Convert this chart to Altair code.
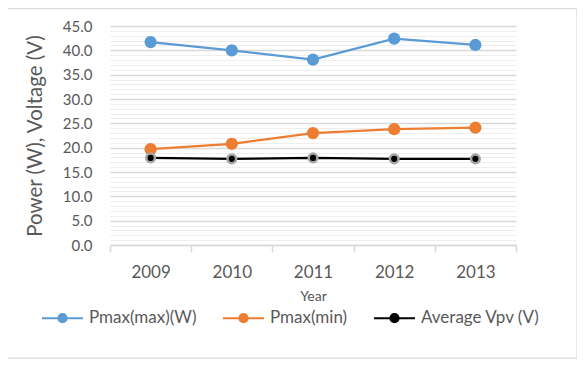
import altair as alt
import pandas as pd

years = ["2009", "2010", "2011", "2012", "2013"]
pmax_max = [41.7, 40.0, 38.1, 42.4, 41.1]
pmax_min = [19.7, 20.8, 23.0, 23.8, 24.1]
avg_vpv = [17.9, 17.7, 17.9, 17.7, 17.7]
series_names = ["Pmax(max)(W)", "Pmax(min)", "Average Vpv (V)"]
series_colors = ["#5B9BD5", "#ED7D31", "#000000"]
major_ticks = [0, 5, 10, 15, 20, 25, 30, 35, 40, 45]
minor_ticks = [v for v in range(0, 46) if v % 5 != 0]

rows = []
for name, vals in zip(series_names, [pmax_max, pmax_min, avg_vpv]):
    for y, v in zip(years, vals):
        rows.append({"year": y, "value": v, "series": name})
df = pd.DataFrame(rows)

FONT = "Lato"
GREY = "#595959"

x_enc = alt.X(
    "year:N",
    sort=years,
    scale=alt.Scale(type="band", paddingInner=0, paddingOuter=0),
    axis=alt.Axis(
        title="Year", titleFont=FONT, titleFontSize=14, titleFontWeight="normal",
        titleColor=GREY, titleY=44, titleBaseline="top",
        labelFont=FONT, labelFontSize=17, labelColor=GREY, labelPadding=12,
        labelAngle=0, tickBand="extent", tickSize=7, tickColor="#d9d9d9",
        tickWidth=1.5, domainColor="#d9d9d9", domainWidth=1.5, grid=False,
    ),
)

y_scale = alt.Scale(domain=[0, 45], nice=False)

color_scale = alt.Scale(domain=series_names, range=series_colors)

legend_path = ("M-1,0H1M-0.2,0A0.2,0.2 0 1,1 0.2,0A0.2,0.2 0 1,1 -0.2,0Z")

legend = alt.Legend(
    title=None, orient="none", legendX=-69, legendY=270.5, direction="horizontal",
    symbolType=legend_path, symbolSize=1681, symbolStrokeWidth=2,
    labelFont=FONT, labelFontSize=17, labelColor=GREY, labelOffset=5,
    columnPadding=22,
)

border = alt.Chart(alt.Data(values=[{"a": 1}])).mark_rect(
    fill="transparent", stroke="#d9d9d9", strokeWidth=1.25
).encode(
    x=alt.value(-103.5), x2=alt.value(467), y=alt.value(-17.5), y2=alt.value(332)
)

lines = alt.Chart(df).mark_line(strokeWidth=2.25).encode(
    x=x_enc,
    y=alt.Y("value:Q", scale=y_scale, axis=alt.Axis(
        values=minor_ticks, grid=True, gridColor="#eeeeee", gridWidth=1,
        labels=False, ticks=False, domain=False, title=None, orient="left")),
    color=alt.Color("series:N", scale=color_scale, legend=legend, sort=series_names),
    order=alt.Order("year:N"),
)

pts = alt.Chart(df).mark_circle(size=150, opacity=1).encode(
    x=x_enc,
    y=alt.Y("value:Q", scale=y_scale, axis=alt.Axis(
        values=major_ticks, format=".1f", grid=True, gridColor="#d9d9d9", gridWidth=1.5,
        ticks=False, tickSize=0, domain=False, labelPadding=18,
        labelFont=FONT, labelFontSize=15, labelColor=GREY,
        title="Power (W), Voltage (V)", titleFont=FONT, titleFontSize=20.5,
        titleFontWeight="normal", titleColor=GREY, titleX=-75, titleY=109.5,
        titleAngle=270, titleBaseline="middle", titleAlign="center", orient="left")),
    color=alt.Color("series:N", scale=color_scale, legend=legend, sort=series_names),
).transform_filter(alt.datum.series != "Average Vpv (V)")

blk = alt.Chart(df).mark_circle(
    size=75, opacity=1, fill="#000000", stroke="#a6a6a6", strokeWidth=2.5
).encode(
    x=x_enc,
    y=alt.Y("value:Q", scale=y_scale, axis=None),
).transform_filter(alt.datum.series == "Average Vpv (V)")

chart = alt.layer(border, lines, pts, blk).resolve_axis(y="independent").properties(
    width=406, height=219,
    autosize=alt.AutoSizeParams(type="none"),
    padding={"left": 102, "top": 18, "right": 61, "bottom": 114},
).configure_view(stroke=None)

chart.save("out.html", embed_options={"renderer": "svg", "actions": False})
